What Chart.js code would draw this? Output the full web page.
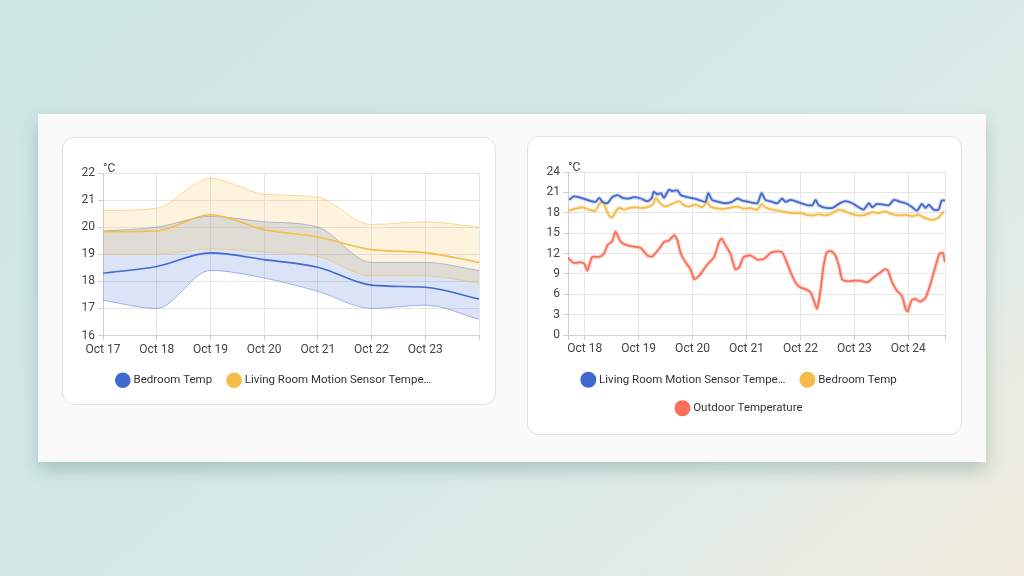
<!DOCTYPE html>
<html>
<head>
<meta charset="utf-8">
<script src="https://cdn.jsdelivr.net/npm/chart.js@4.4.1/dist/chart.umd.min.js"></script>
<style>
  html, body { margin: 0; padding: 0; }
  body {
    width: 1024px; height: 576px; overflow: hidden; position: relative;
    font-family: Roboto, "Noto Sans", sans-serif;
    background: linear-gradient(140deg, #cde5e3 0%, #d4e9e7 45%, #e0ece6 75%, #f1ebdc 100%);
  }
  #panel {
    position: absolute; left: 38px; top: 114px; width: 948px; height: 348px;
    background: #fafafa; box-shadow: 0 8px 16px rgba(40, 90, 90, 0.26);
  }
  .card {
    position: absolute; background: #fff; border: 1px solid #e2e2e2; border-radius: 12px;
    box-sizing: border-box;
  }
  #cardLeft { left: 62px; top: 137px; width: 434px; height: 268px; }
  #cardRight { left: 527px; top: 136px; width: 435px; height: 299px; }
  .wrap { position: absolute; }
  #leftWrap { left: 70px; top: 150px; width: 422px; height: 246px; }
  #rightWrap { left: 535px; top: 150px; width: 422px; height: 274px; }
</style>
</head>
<body>
<div id="panel"></div>
<div class="card" id="cardLeft"></div>
<div class="card" id="cardRight"></div>
<div class="wrap" id="leftWrap"><canvas id="leftChart"></canvas></div>
<div class="wrap" id="rightWrap"><canvas id="rightChart"></canvas></div>

<script>
// left chart: daily statistics, x = days since Oct 17
const leftDays = [0, 1, 2, 3, 4, 5, 6, 7];
const leftTickLabels = ['Oct 17', 'Oct 18', 'Oct 19', 'Oct 20', 'Oct 21', 'Oct 22', 'Oct 23'];
const bedroomMean = [18.3, 18.55, 19.05, 18.8, 18.52, 17.86, 17.78, 17.35];
const bedroomMin = [17.3, 17.0, 18.4, 18.12, 17.63, 17.0, 17.12, 16.6];
const bedroomMax = [19.86, 20.0, 20.4, 20.2, 20.0, 18.7, 18.7, 18.4];
const livingMean = [19.83, 19.86, 20.46, 19.91, 19.64, 19.17, 19.06, 18.7];
const livingMin = [19.0, 19.0, 19.2, 19.08, 18.92, 18.2, 18.2, 17.93];
const livingMax = [20.61, 20.7, 21.8, 21.22, 21.1, 20.1, 20.2, 20.0];

// right chart: 5 minute statistics, x = days since Oct 17
const rightRange = [0.69, 7.68];
const rightTickDays = [1, 2, 3, 4, 5, 6, 7];
const rightTickLabels = ['Oct 18', 'Oct 19', 'Oct 20', 'Oct 21', 'Oct 22', 'Oct 23', 'Oct 24'];
const livingRoomDays = [0.71, 0.80, 0.93, 1.08, 1.20, 1.27, 1.33, 1.42, 1.51, 1.61, 1.70, 1.82, 1.91, 2.04, 2.16, 2.24, 2.28, 2.35, 2.41, 2.47, 2.56, 2.62, 2.72, 2.78, 2.90, 3.03, 3.15, 3.24, 3.29, 3.36, 3.49, 3.61, 3.73, 3.83, 3.92, 4.04, 4.20, 4.28, 4.35, 4.48, 4.57, 4.66, 4.72, 4.82, 4.94, 5.09, 5.22, 5.28, 5.34, 5.43, 5.59, 5.71, 5.83, 5.96, 6.08, 6.17, 6.27, 6.33, 6.42, 6.54, 6.64, 6.73, 6.85, 6.95, 7.06, 7.16, 7.25, 7.32, 7.38, 7.47, 7.56, 7.62, 7.68];
const livingRoomTemps = [19.9, 20.4, 20.2, 19.8, 19.6, 20.2, 19.6, 19.4, 20.3, 20.6, 20.2, 20.1, 20.3, 20.1, 19.7, 20.1, 21.1, 20.7, 20.9, 20.2, 21.4, 21.2, 21.3, 20.6, 20.3, 20.1, 19.8, 19.6, 20.9, 19.9, 19.6, 19.4, 19.6, 20.1, 19.8, 19.6, 19.4, 20.9, 19.9, 19.6, 19.4, 20.1, 19.6, 19.9, 19.6, 19.2, 19.1, 19.9, 19.1, 18.8, 18.7, 19.3, 19.7, 19.4, 18.8, 18.45, 19.4, 18.8, 19.3, 19.2, 19.1, 19.9, 19.6, 19.4, 18.9, 18.3, 19.3, 18.7, 19.2, 18.45, 18.45, 19.8, 19.8];
const bedroomDays = [0.71, 0.83, 0.96, 1.08, 1.20, 1.27, 1.33, 1.38, 1.45, 1.51, 1.575, 1.64, 1.73, 1.82, 1.945, 2.07, 2.19, 2.27, 2.32, 2.41, 2.50, 2.62, 2.75, 2.84, 2.93, 3.06, 3.18, 3.27, 3.33, 3.49, 3.61, 3.73, 3.83, 3.95, 4.08, 4.20, 4.28, 4.35, 4.48, 4.60, 4.72, 4.85, 5.00, 5.12, 5.22, 5.34, 5.46, 5.59, 5.71, 5.83, 5.96, 6.08, 6.20, 6.33, 6.45, 6.57, 6.70, 6.82, 6.95, 7.07, 7.19, 7.32, 7.44, 7.56, 7.66];
const bedroomTemps = [18.3, 18.6, 18.8, 18.45, 18.3, 19.3, 19.6, 18.9, 17.6, 17.3, 18.2, 18.7, 18.45, 18.7, 18.8, 18.7, 18.9, 19.3, 20.2, 19.3, 18.9, 19.3, 19.7, 19.1, 18.9, 19.2, 18.8, 19.6, 18.9, 18.6, 18.6, 18.8, 18.9, 18.6, 18.7, 18.45, 19.3, 18.8, 18.45, 18.3, 18.1, 17.95, 17.95, 17.7, 17.6, 17.8, 17.6, 17.95, 18.45, 18.2, 17.8, 17.6, 17.7, 18.1, 17.95, 18.2, 17.8, 17.6, 17.7, 17.5, 17.7, 17.2, 16.95, 17.3, 18.2];
const outdoorDays = [0.69, 0.80, 0.92, 0.99, 1.05, 1.14, 1.27, 1.36, 1.42, 1.51, 1.57, 1.67, 1.79, 1.91, 2.04, 2.16, 2.25, 2.38, 2.47, 2.56, 2.66, 2.72, 2.78, 2.87, 2.96, 3.03, 3.09, 3.15, 3.21, 3.30, 3.40, 3.49, 3.54, 3.61, 3.70, 3.79, 3.86, 3.95, 4.08, 4.20, 4.32, 4.45, 4.57, 4.66, 4.72, 4.82, 4.91, 5.00, 5.09, 5.19, 5.25, 5.31, 5.37, 5.43, 5.49, 5.57, 5.65, 5.72, 5.77, 5.87, 5.99, 6.11, 6.24, 6.36, 6.48, 6.57, 6.62, 6.70, 6.79, 6.88, 6.95, 6.99, 7.06, 7.13, 7.22, 7.32, 7.41, 7.50, 7.58, 7.64, 7.68];
const outdoorTemps = [11.4, 10.6, 10.7, 10.5, 9.5, 11.5, 11.5, 12.0, 13.2, 13.8, 15.2, 13.7, 13.2, 13.0, 12.8, 11.7, 11.55, 12.7, 13.7, 13.9, 14.7, 13.9, 12.0, 10.7, 9.7, 8.2, 8.5, 9.0, 9.7, 10.6, 11.5, 13.7, 14.2, 13.2, 12.0, 9.7, 9.9, 11.5, 11.7, 11.1, 11.2, 12.1, 12.3, 12.2, 11.2, 9.2, 7.7, 7.0, 6.75, 6.26, 5.0, 3.9, 6.5, 10.2, 12.2, 12.35, 11.7, 10.0, 8.2, 7.9, 8.0, 8.0, 7.75, 8.5, 9.2, 9.7, 9.5, 7.75, 6.5, 5.8, 3.8, 3.5, 5.1, 5.3, 4.9, 5.5, 7.5, 10.0, 12.0, 12.1, 10.7];

const BLUE = '#4269d0';
const YELLOW = '#f4bd4a';
const RED = '#fb6f58';
const GRID = '#e6e6e6';
const TEXT = '#444';

function pts(xs, ys) {
    return xs.map((x, i) => ({ x: x, y: ys[i] }));
}

const unitLabel = {
    id: 'unitLabel',
    afterDraw(chart) {
        const ctx = chart.ctx;
        ctx.save();
        ctx.font = '12px Roboto';
        ctx.fillStyle = TEXT;
        ctx.textAlign = 'left';
        ctx.fillText('°C', chart.chartArea.left, chart.chartArea.top - 4);
        ctx.restore();
    }
};

function legendOpts() {
    return {
        position: 'bottom',
        labels: {
            usePointStyle: true,
            pointStyle: 'circle',
            boxWidth: 10,
            boxHeight: 10,
            padding: 17,
            color: '#333',
            font: { family: 'Roboto', size: 11.5 },
            filter: (item, data) => !!data.datasets[item.datasetIndex].inLegend,
        },
    };
}

function yAxis(min, max, step) {
    return {
        min: min, max: max,
        afterFit: (scale) => { scale.width = 33; },
        ticks: { stepSize: step, color: TEXT, font: { family: 'Roboto', size: 12 }, padding: 3 },
        grid: { color: GRID, tickLength: 5, tickColor: '#cfcfcf' },
        border: { color: '#cfcfcf' },
    };
}

Chart.defaults.font.family = 'Roboto';

// left chart
new Chart(document.getElementById('leftChart'), {
    type: 'line',
    plugins: [unitLabel],
    data: {
        datasets: [
            { data: pts(leftDays, bedroomMin), borderColor: 'rgba(66,105,208,0.45)', borderWidth: 1, fill: false, order: 4 },
            { data: pts(leftDays, bedroomMax), borderColor: 'rgba(66,105,208,0.45)', borderWidth: 1, fill: '-1', backgroundColor: 'rgba(66,105,208,0.19)', order: 4 },
            { data: pts(leftDays, livingMin), borderColor: 'rgba(244,189,74,0.55)', borderWidth: 1, fill: false, order: 3 },
            { data: pts(leftDays, livingMax), borderColor: 'rgba(244,189,74,0.55)', borderWidth: 1, fill: '-1', backgroundColor: 'rgba(244,189,74,0.18)', order: 3 },
            { label: 'Bedroom Temp', inLegend: true, data: pts(leftDays, bedroomMean), borderColor: BLUE, backgroundColor: BLUE, borderWidth: 1.6, fill: false, order: 0 },
            { label: 'Living Room Motion Sensor Tempe…', inLegend: true, data: pts(leftDays, livingMean), borderColor: YELLOW, backgroundColor: YELLOW, borderWidth: 1.6, fill: false, order: 1 },
        ],
    },
    options: {
        responsive: true,
        maintainAspectRatio: false,
        animation: false,
        elements: { point: { radius: 0 }, line: { cubicInterpolationMode: 'monotone' } },
        layout: { padding: { top: 23, right: 13, left: 0, bottom: 0 } },
        plugins: { legend: legendOpts(), tooltip: { enabled: false } },
        scales: {
            x: {
                type: 'linear', min: 0, max: 7,
                afterFit: (scale) => { scale.height = 22; },
                ticks: {
                    stepSize: 1, autoSkip: false, maxRotation: 0, color: TEXT,
                    font: { family: 'Roboto', size: 12 }, padding: 2,
                    callback: (v) => leftTickLabels[v] || '',
                },
                grid: { color: GRID, tickLength: 5, tickColor: '#cfcfcf' },
                border: { color: '#cfcfcf' },
            },
            y: yAxis(16, 22, 1),
        },
    },
});

// right chart
new Chart(document.getElementById('rightChart'), {
    type: 'line',
    plugins: [unitLabel],
    data: {
        datasets: [
            { data: pts(livingRoomDays, livingRoomTemps), borderColor: 'rgba(66,105,208,0.25)', borderWidth: 4, fill: false, order: 6 },
            { data: pts(bedroomDays, bedroomTemps), borderColor: 'rgba(244,189,74,0.3)', borderWidth: 4, fill: false, order: 7 },
            { data: pts(outdoorDays, outdoorTemps), borderColor: 'rgba(251,111,88,0.3)', borderWidth: 4, fill: false, order: 8 },
            { label: 'Living Room Motion Sensor Tempe…', inLegend: true, data: pts(livingRoomDays, livingRoomTemps), borderColor: BLUE, backgroundColor: BLUE, borderWidth: 1.8, fill: false, order: 1 },
            { label: 'Bedroom Temp', inLegend: true, data: pts(bedroomDays, bedroomTemps), borderColor: YELLOW, backgroundColor: YELLOW, borderWidth: 1.8, fill: false, order: 2 },
            { label: 'Outdoor Temperature', inLegend: true, data: pts(outdoorDays, outdoorTemps), borderColor: RED, backgroundColor: RED, borderWidth: 1.8, fill: false, order: 3 },
        ],
    },
    options: {
        responsive: true,
        maintainAspectRatio: false,
        animation: false,
        elements: { point: { radius: 0 }, line: { tension: 0.2 } },
        layout: { padding: { top: 22, right: 12, left: 0, bottom: 0 } },
        plugins: { legend: legendOpts(), tooltip: { enabled: false } },
        scales: {
            x: {
                type: 'linear', min: rightRange[0], max: rightRange[1],
                afterFit: (scale) => { scale.height = 22; },
                afterBuildTicks: (scale) => {
                    scale.ticks = [rightRange[0], ...rightTickDays, rightRange[1]].map((v) => ({ value: v }));
                },
                ticks: {
                    autoSkip: false, maxRotation: 0, color: TEXT,
                    font: { family: 'Roboto', size: 12 }, padding: 2,
                    callback: (v) => {
                        const i = rightTickDays.indexOf(v);
                        return i >= 0 ? rightTickLabels[i] : '';
                    },
                },
                grid: { color: GRID, tickLength: 5, tickColor: '#cfcfcf' },
                border: { color: '#cfcfcf' },
            },
            y: yAxis(0, 24, 3),
        },
    },
});
</script>
</body>
</html>
